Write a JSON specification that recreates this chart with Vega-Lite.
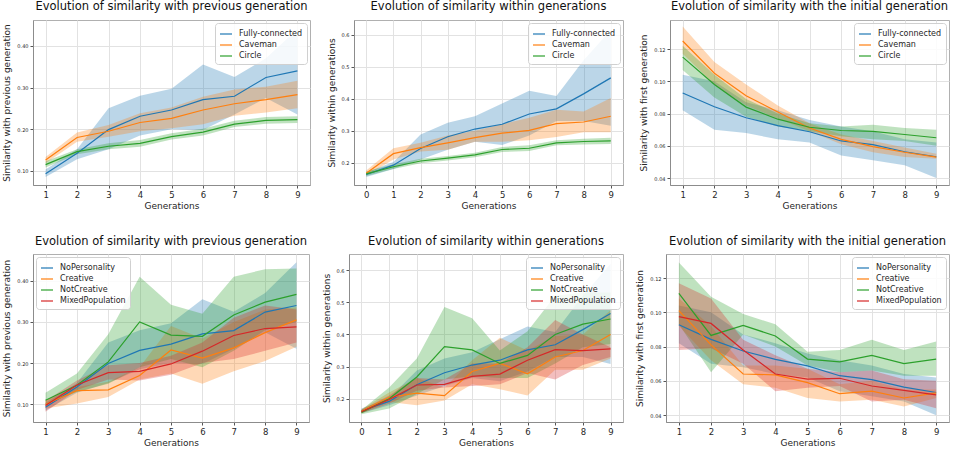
{
  "$schema": "https://vega.github.io/schema/vega-lite/v6.json",
  "padding": {"left": 2, "top": 0, "right": 0, "bottom": 0},
  "background": "white",
  "data": {"name": "d"},
  "datasets": {
    "d": [
      {"p":1,"g":"Fully-connected","x":1,"m":0.093,"lo":0.085,"hi":0.103},
      {"p":1,"g":"Fully-connected","x":2,"m":0.142,"lo":0.128,"hi":0.152},
      {"p":1,"g":"Fully-connected","x":3,"m":0.199,"lo":0.152,"hi":0.250},
      {"p":1,"g":"Fully-connected","x":4,"m":0.231,"lo":0.185,"hi":0.280},
      {"p":1,"g":"Fully-connected","x":5,"m":0.246,"lo":0.200,"hi":0.297},
      {"p":1,"g":"Fully-connected","x":6,"m":0.271,"lo":0.198,"hi":0.355},
      {"p":1,"g":"Fully-connected","x":7,"m":0.279,"lo":0.235,"hi":0.325},
      {"p":1,"g":"Fully-connected","x":8,"m":0.324,"lo":0.275,"hi":0.370},
      {"p":1,"g":"Fully-connected","x":9,"m":0.340,"lo":0.235,"hi":0.440},
      {"p":1,"g":"Caveman","x":1,"m":0.126,"lo":0.118,"hi":0.133},
      {"p":1,"g":"Caveman","x":2,"m":0.180,"lo":0.170,"hi":0.192},
      {"p":1,"g":"Caveman","x":3,"m":0.195,"lo":0.182,"hi":0.210},
      {"p":1,"g":"Caveman","x":4,"m":0.216,"lo":0.195,"hi":0.238},
      {"p":1,"g":"Caveman","x":5,"m":0.226,"lo":0.202,"hi":0.252},
      {"p":1,"g":"Caveman","x":6,"m":0.246,"lo":0.212,"hi":0.278},
      {"p":1,"g":"Caveman","x":7,"m":0.261,"lo":0.232,"hi":0.295},
      {"p":1,"g":"Caveman","x":8,"m":0.271,"lo":0.240,"hi":0.302},
      {"p":1,"g":"Caveman","x":9,"m":0.283,"lo":0.250,"hi":0.316},
      {"p":1,"g":"Circle","x":1,"m":0.115,"lo":0.108,"hi":0.123},
      {"p":1,"g":"Circle","x":2,"m":0.146,"lo":0.140,"hi":0.152},
      {"p":1,"g":"Circle","x":3,"m":0.159,"lo":0.152,"hi":0.166},
      {"p":1,"g":"Circle","x":4,"m":0.166,"lo":0.158,"hi":0.174},
      {"p":1,"g":"Circle","x":5,"m":0.182,"lo":0.175,"hi":0.190},
      {"p":1,"g":"Circle","x":6,"m":0.193,"lo":0.185,"hi":0.201},
      {"p":1,"g":"Circle","x":7,"m":0.212,"lo":0.205,"hi":0.220},
      {"p":1,"g":"Circle","x":8,"m":0.221,"lo":0.213,"hi":0.229},
      {"p":1,"g":"Circle","x":9,"m":0.223,"lo":0.215,"hi":0.231},

      {"p":2,"g":"Fully-connected","x":0,"m":0.163,"lo":0.155,"hi":0.170},
      {"p":2,"g":"Fully-connected","x":1,"m":0.192,"lo":0.180,"hi":0.202},
      {"p":2,"g":"Fully-connected","x":2,"m":0.244,"lo":0.210,"hi":0.288},
      {"p":2,"g":"Fully-connected","x":3,"m":0.281,"lo":0.240,"hi":0.325},
      {"p":2,"g":"Fully-connected","x":4,"m":0.305,"lo":0.265,"hi":0.345},
      {"p":2,"g":"Fully-connected","x":5,"m":0.320,"lo":0.255,"hi":0.385},
      {"p":2,"g":"Fully-connected","x":6,"m":0.352,"lo":0.285,"hi":0.425},
      {"p":2,"g":"Fully-connected","x":7,"m":0.368,"lo":0.330,"hi":0.408},
      {"p":2,"g":"Fully-connected","x":8,"m":0.415,"lo":0.330,"hi":0.520},
      {"p":2,"g":"Fully-connected","x":9,"m":0.465,"lo":0.315,"hi":0.615},
      {"p":2,"g":"Caveman","x":0,"m":0.167,"lo":0.160,"hi":0.175},
      {"p":2,"g":"Caveman","x":1,"m":0.228,"lo":0.210,"hi":0.245},
      {"p":2,"g":"Caveman","x":2,"m":0.247,"lo":0.235,"hi":0.262},
      {"p":2,"g":"Caveman","x":3,"m":0.262,"lo":0.240,"hi":0.285},
      {"p":2,"g":"Caveman","x":4,"m":0.278,"lo":0.265,"hi":0.300},
      {"p":2,"g":"Caveman","x":5,"m":0.292,"lo":0.265,"hi":0.320},
      {"p":2,"g":"Caveman","x":6,"m":0.301,"lo":0.270,"hi":0.340},
      {"p":2,"g":"Caveman","x":7,"m":0.322,"lo":0.280,"hi":0.365},
      {"p":2,"g":"Caveman","x":8,"m":0.327,"lo":0.295,"hi":0.360},
      {"p":2,"g":"Caveman","x":9,"m":0.345,"lo":0.295,"hi":0.402},
      {"p":2,"g":"Circle","x":0,"m":0.165,"lo":0.158,"hi":0.172},
      {"p":2,"g":"Circle","x":1,"m":0.187,"lo":0.180,"hi":0.195},
      {"p":2,"g":"Circle","x":2,"m":0.205,"lo":0.198,"hi":0.212},
      {"p":2,"g":"Circle","x":3,"m":0.214,"lo":0.207,"hi":0.221},
      {"p":2,"g":"Circle","x":4,"m":0.224,"lo":0.217,"hi":0.231},
      {"p":2,"g":"Circle","x":5,"m":0.241,"lo":0.233,"hi":0.249},
      {"p":2,"g":"Circle","x":6,"m":0.245,"lo":0.236,"hi":0.254},
      {"p":2,"g":"Circle","x":7,"m":0.262,"lo":0.254,"hi":0.270},
      {"p":2,"g":"Circle","x":8,"m":0.266,"lo":0.257,"hi":0.275},
      {"p":2,"g":"Circle","x":9,"m":0.268,"lo":0.258,"hi":0.278},

      {"p":3,"g":"Fully-connected","x":1,"m":0.0927,"lo":0.082,"hi":0.104},
      {"p":3,"g":"Fully-connected","x":2,"m":0.0842,"lo":0.070,"hi":0.100},
      {"p":3,"g":"Fully-connected","x":3,"m":0.0774,"lo":0.068,"hi":0.087},
      {"p":3,"g":"Fully-connected","x":4,"m":0.0725,"lo":0.064,"hi":0.082},
      {"p":3,"g":"Fully-connected","x":5,"m":0.0687,"lo":0.062,"hi":0.076},
      {"p":3,"g":"Fully-connected","x":6,"m":0.0630,"lo":0.054,"hi":0.072},
      {"p":3,"g":"Fully-connected","x":7,"m":0.0607,"lo":0.051,"hi":0.069},
      {"p":3,"g":"Fully-connected","x":8,"m":0.0563,"lo":0.048,"hi":0.064},
      {"p":3,"g":"Fully-connected","x":9,"m":0.0532,"lo":0.040,"hi":0.062},
      {"p":3,"g":"Caveman","x":1,"m":0.125,"lo":0.117,"hi":0.134},
      {"p":3,"g":"Caveman","x":2,"m":0.105,"lo":0.098,"hi":0.112},
      {"p":3,"g":"Caveman","x":3,"m":0.091,"lo":0.085,"hi":0.098},
      {"p":3,"g":"Caveman","x":4,"m":0.081,"lo":0.077,"hi":0.085},
      {"p":3,"g":"Caveman","x":5,"m":0.071,"lo":0.069,"hi":0.074},
      {"p":3,"g":"Caveman","x":6,"m":0.064,"lo":0.061,"hi":0.067},
      {"p":3,"g":"Caveman","x":7,"m":0.0595,"lo":0.056,"hi":0.063},
      {"p":3,"g":"Caveman","x":8,"m":0.056,"lo":0.053,"hi":0.059},
      {"p":3,"g":"Caveman","x":9,"m":0.053,"lo":0.052,"hi":0.055},
      {"p":3,"g":"Circle","x":1,"m":0.115,"lo":0.107,"hi":0.122},
      {"p":3,"g":"Circle","x":2,"m":0.098,"lo":0.090,"hi":0.104},
      {"p":3,"g":"Circle","x":3,"m":0.084,"lo":0.078,"hi":0.089},
      {"p":3,"g":"Circle","x":4,"m":0.0765,"lo":0.072,"hi":0.080},
      {"p":3,"g":"Circle","x":5,"m":0.0715,"lo":0.069,"hi":0.074},
      {"p":3,"g":"Circle","x":6,"m":0.0695,"lo":0.066,"hi":0.072},
      {"p":3,"g":"Circle","x":7,"m":0.069,"lo":0.064,"hi":0.073},
      {"p":3,"g":"Circle","x":8,"m":0.067,"lo":0.063,"hi":0.071},
      {"p":3,"g":"Circle","x":9,"m":0.065,"lo":0.060,"hi":0.070},

      {"p":4,"g":"NoPersonality","x":1,"m":0.093,"lo":0.085,"hi":0.103},
      {"p":4,"g":"NoPersonality","x":2,"m":0.142,"lo":0.128,"hi":0.152},
      {"p":4,"g":"NoPersonality","x":3,"m":0.199,"lo":0.152,"hi":0.250},
      {"p":4,"g":"NoPersonality","x":4,"m":0.231,"lo":0.185,"hi":0.280},
      {"p":4,"g":"NoPersonality","x":5,"m":0.246,"lo":0.200,"hi":0.297},
      {"p":4,"g":"NoPersonality","x":6,"m":0.271,"lo":0.198,"hi":0.355},
      {"p":4,"g":"NoPersonality","x":7,"m":0.279,"lo":0.235,"hi":0.325},
      {"p":4,"g":"NoPersonality","x":8,"m":0.324,"lo":0.275,"hi":0.370},
      {"p":4,"g":"NoPersonality","x":9,"m":0.340,"lo":0.235,"hi":0.445},
      {"p":4,"g":"Creative","x":1,"m":0.100,"lo":0.090,"hi":0.110},
      {"p":4,"g":"Creative","x":2,"m":0.133,"lo":0.102,"hi":0.142},
      {"p":4,"g":"Creative","x":3,"m":0.135,"lo":0.118,"hi":0.155},
      {"p":4,"g":"Creative","x":4,"m":0.170,"lo":0.160,"hi":0.190},
      {"p":4,"g":"Creative","x":5,"m":0.232,"lo":0.175,"hi":0.290},
      {"p":4,"g":"Creative","x":6,"m":0.212,"lo":0.150,"hi":0.260},
      {"p":4,"g":"Creative","x":7,"m":0.237,"lo":0.180,"hi":0.300},
      {"p":4,"g":"Creative","x":8,"m":0.274,"lo":0.205,"hi":0.330},
      {"p":4,"g":"Creative","x":9,"m":0.305,"lo":0.240,"hi":0.335},
      {"p":4,"g":"NotCreative","x":1,"m":0.110,"lo":0.100,"hi":0.128},
      {"p":4,"g":"NotCreative","x":2,"m":0.146,"lo":0.130,"hi":0.175},
      {"p":4,"g":"NotCreative","x":3,"m":0.203,"lo":0.150,"hi":0.270},
      {"p":4,"g":"NotCreative","x":4,"m":0.300,"lo":0.190,"hi":0.410},
      {"p":4,"g":"NotCreative","x":5,"m":0.268,"lo":0.210,"hi":0.342},
      {"p":4,"g":"NotCreative","x":6,"m":0.265,"lo":0.190,"hi":0.320},
      {"p":4,"g":"NotCreative","x":7,"m":0.317,"lo":0.230,"hi":0.410},
      {"p":4,"g":"NotCreative","x":8,"m":0.348,"lo":0.280,"hi":0.428},
      {"p":4,"g":"NotCreative","x":9,"m":0.367,"lo":0.300,"hi":0.430},
      {"p":4,"g":"MixedPopulation","x":1,"m":0.097,"lo":0.082,"hi":0.108},
      {"p":4,"g":"MixedPopulation","x":2,"m":0.147,"lo":0.135,"hi":0.158},
      {"p":4,"g":"MixedPopulation","x":3,"m":0.177,"lo":0.160,"hi":0.195},
      {"p":4,"g":"MixedPopulation","x":4,"m":0.180,"lo":0.158,"hi":0.200},
      {"p":4,"g":"MixedPopulation","x":5,"m":0.198,"lo":0.172,"hi":0.218},
      {"p":4,"g":"MixedPopulation","x":6,"m":0.229,"lo":0.200,"hi":0.250},
      {"p":4,"g":"MixedPopulation","x":7,"m":0.267,"lo":0.210,"hi":0.310},
      {"p":4,"g":"MixedPopulation","x":8,"m":0.284,"lo":0.230,"hi":0.340},
      {"p":4,"g":"MixedPopulation","x":9,"m":0.288,"lo":0.250,"hi":0.330},

      {"p":5,"g":"NoPersonality","x":0,"m":0.163,"lo":0.155,"hi":0.170},
      {"p":5,"g":"NoPersonality","x":1,"m":0.192,"lo":0.180,"hi":0.202},
      {"p":5,"g":"NoPersonality","x":2,"m":0.244,"lo":0.210,"hi":0.288},
      {"p":5,"g":"NoPersonality","x":3,"m":0.281,"lo":0.240,"hi":0.325},
      {"p":5,"g":"NoPersonality","x":4,"m":0.305,"lo":0.265,"hi":0.345},
      {"p":5,"g":"NoPersonality","x":5,"m":0.320,"lo":0.255,"hi":0.385},
      {"p":5,"g":"NoPersonality","x":6,"m":0.352,"lo":0.285,"hi":0.425},
      {"p":5,"g":"NoPersonality","x":7,"m":0.368,"lo":0.330,"hi":0.408},
      {"p":5,"g":"NoPersonality","x":8,"m":0.415,"lo":0.330,"hi":0.520},
      {"p":5,"g":"NoPersonality","x":9,"m":0.465,"lo":0.308,"hi":0.620},
      {"p":5,"g":"Creative","x":0,"m":0.162,"lo":0.155,"hi":0.168},
      {"p":5,"g":"Creative","x":1,"m":0.205,"lo":0.190,"hi":0.220},
      {"p":5,"g":"Creative","x":2,"m":0.218,"lo":0.180,"hi":0.265},
      {"p":5,"g":"Creative","x":3,"m":0.210,"lo":0.195,"hi":0.235},
      {"p":5,"g":"Creative","x":4,"m":0.285,"lo":0.245,"hi":0.320},
      {"p":5,"g":"Creative","x":5,"m":0.310,"lo":0.230,"hi":0.390},
      {"p":5,"g":"Creative","x":6,"m":0.278,"lo":0.210,"hi":0.350},
      {"p":5,"g":"Creative","x":7,"m":0.330,"lo":0.290,"hi":0.395},
      {"p":5,"g":"Creative","x":8,"m":0.350,"lo":0.290,"hi":0.400},
      {"p":5,"g":"Creative","x":9,"m":0.400,"lo":0.325,"hi":0.475},
      {"p":5,"g":"NotCreative","x":0,"m":0.158,"lo":0.152,"hi":0.165},
      {"p":5,"g":"NotCreative","x":1,"m":0.200,"lo":0.170,"hi":0.235},
      {"p":5,"g":"NotCreative","x":2,"m":0.268,"lo":0.215,"hi":0.325},
      {"p":5,"g":"NotCreative","x":3,"m":0.362,"lo":0.260,"hi":0.485},
      {"p":5,"g":"NotCreative","x":4,"m":0.352,"lo":0.270,"hi":0.450},
      {"p":5,"g":"NotCreative","x":5,"m":0.310,"lo":0.265,"hi":0.350},
      {"p":5,"g":"NotCreative","x":6,"m":0.335,"lo":0.265,"hi":0.410},
      {"p":5,"g":"NotCreative","x":7,"m":0.400,"lo":0.310,"hi":0.520},
      {"p":5,"g":"NotCreative","x":8,"m":0.432,"lo":0.360,"hi":0.530},
      {"p":5,"g":"NotCreative","x":9,"m":0.448,"lo":0.370,"hi":0.530},
      {"p":5,"g":"MixedPopulation","x":0,"m":0.160,"lo":0.155,"hi":0.165},
      {"p":5,"g":"MixedPopulation","x":1,"m":0.198,"lo":0.185,"hi":0.210},
      {"p":5,"g":"MixedPopulation","x":2,"m":0.243,"lo":0.225,"hi":0.265},
      {"p":5,"g":"MixedPopulation","x":3,"m":0.245,"lo":0.235,"hi":0.260},
      {"p":5,"g":"MixedPopulation","x":4,"m":0.270,"lo":0.240,"hi":0.310},
      {"p":5,"g":"MixedPopulation","x":5,"m":0.277,"lo":0.245,"hi":0.310},
      {"p":5,"g":"MixedPopulation","x":6,"m":0.320,"lo":0.280,"hi":0.360},
      {"p":5,"g":"MixedPopulation","x":7,"m":0.353,"lo":0.260,"hi":0.445},
      {"p":5,"g":"MixedPopulation","x":8,"m":0.350,"lo":0.305,"hi":0.400},
      {"p":5,"g":"MixedPopulation","x":9,"m":0.355,"lo":0.330,"hi":0.360},

      {"p":6,"g":"NoPersonality","x":1,"m":0.0927,"lo":0.082,"hi":0.104},
      {"p":6,"g":"NoPersonality","x":2,"m":0.0842,"lo":0.070,"hi":0.100},
      {"p":6,"g":"NoPersonality","x":3,"m":0.0774,"lo":0.068,"hi":0.087},
      {"p":6,"g":"NoPersonality","x":4,"m":0.0725,"lo":0.064,"hi":0.082},
      {"p":6,"g":"NoPersonality","x":5,"m":0.0687,"lo":0.062,"hi":0.076},
      {"p":6,"g":"NoPersonality","x":6,"m":0.0630,"lo":0.054,"hi":0.072},
      {"p":6,"g":"NoPersonality","x":7,"m":0.0607,"lo":0.051,"hi":0.069},
      {"p":6,"g":"NoPersonality","x":8,"m":0.0563,"lo":0.048,"hi":0.064},
      {"p":6,"g":"NoPersonality","x":9,"m":0.0532,"lo":0.040,"hi":0.062},
      {"p":6,"g":"Creative","x":1,"m":0.101,"lo":0.092,"hi":0.108},
      {"p":6,"g":"Creative","x":2,"m":0.081,"lo":0.072,"hi":0.092},
      {"p":6,"g":"Creative","x":3,"m":0.064,"lo":0.058,"hi":0.069},
      {"p":6,"g":"Creative","x":4,"m":0.0635,"lo":0.056,"hi":0.069},
      {"p":6,"g":"Creative","x":5,"m":0.059,"lo":0.050,"hi":0.067},
      {"p":6,"g":"Creative","x":6,"m":0.0525,"lo":0.048,"hi":0.058},
      {"p":6,"g":"Creative","x":7,"m":0.054,"lo":0.049,"hi":0.060},
      {"p":6,"g":"Creative","x":8,"m":0.050,"lo":0.045,"hi":0.055},
      {"p":6,"g":"Creative","x":9,"m":0.053,"lo":0.050,"hi":0.055},
      {"p":6,"g":"NotCreative","x":1,"m":0.111,"lo":0.093,"hi":0.129},
      {"p":6,"g":"NotCreative","x":2,"m":0.0865,"lo":0.065,"hi":0.109},
      {"p":6,"g":"NotCreative","x":3,"m":0.0923,"lo":0.087,"hi":0.099},
      {"p":6,"g":"NotCreative","x":4,"m":0.0862,"lo":0.080,"hi":0.093},
      {"p":6,"g":"NotCreative","x":5,"m":0.0727,"lo":0.069,"hi":0.077},
      {"p":6,"g":"NotCreative","x":6,"m":0.0711,"lo":0.065,"hi":0.078},
      {"p":6,"g":"NotCreative","x":7,"m":0.0748,"lo":0.066,"hi":0.084},
      {"p":6,"g":"NotCreative","x":8,"m":0.0701,"lo":0.063,"hi":0.078},
      {"p":6,"g":"NotCreative","x":9,"m":0.0727,"lo":0.063,"hi":0.083},
      {"p":6,"g":"MixedPopulation","x":1,"m":0.0975,"lo":0.078,"hi":0.117},
      {"p":6,"g":"MixedPopulation","x":2,"m":0.0935,"lo":0.079,"hi":0.108},
      {"p":6,"g":"MixedPopulation","x":3,"m":0.078,"lo":0.070,"hi":0.084},
      {"p":6,"g":"MixedPopulation","x":4,"m":0.064,"lo":0.054,"hi":0.075},
      {"p":6,"g":"MixedPopulation","x":5,"m":0.061,"lo":0.056,"hi":0.067},
      {"p":6,"g":"MixedPopulation","x":6,"m":0.0615,"lo":0.057,"hi":0.065},
      {"p":6,"g":"MixedPopulation","x":7,"m":0.057,"lo":0.048,"hi":0.066},
      {"p":6,"g":"MixedPopulation","x":8,"m":0.0545,"lo":0.049,"hi":0.061},
      {"p":6,"g":"MixedPopulation","x":9,"m":0.0518,"lo":0.044,"hi":0.060}
    ]
  },
  "config": {
    "font": "DejaVu Sans",
    "view": {"stroke": "#b0b0b0"},
    "title": {"font": "DejaVu Sans", "fontSize": 11.5, "fontWeight": "normal", "color": "#111111", "offset": 7},
    "axis": {"labelFont": "DejaVu Sans", "titleFont": "DejaVu Sans", "titleFontWeight": "normal", "titleColor": "#262626", "labelColor": "#262626", "gridColor": "#e2e2e2", "domainColor": "#8c8c8c", "tickColor": "#555555", "tickSize": 3},
    "axisX": {"labelFontSize": 8.5, "titleFontSize": 9, "titlePadding": 3, "labelPadding": 2, "labelFlush": false},
    "axisY": {"labelFontSize": 5, "titleFontSize": 9, "titlePadding": 5, "labelPadding": 2},
    "legend": {"labelFont": "DejaVu Sans", "labelFontSize": 8, "labelColor": "#262626", "symbolType": "stroke", "symbolSize": 144, "symbolStrokeWidth": 1.2, "fillColor": "rgba(255,255,255,0.85)", "strokeColor": "#d0d0d0", "cornerRadius": 3, "padding": 4, "rowPadding": 0, "labelOffset": 6, "offset": 3}
  },
  "spacing": 24,
  "resolve": {"scale": {"color": "independent", "fill": "independent", "x": "independent", "y": "independent"}, "legend": {"color": "independent"}},
  "vconcat": [
    {
      "spacing": 15,
      "resolve": {"scale": {"color": "independent", "fill": "independent", "x": "independent", "y": "independent"}, "legend": {"color": "independent"}},
      "hconcat": [
        {
          "width": 277, "height": 165,
          "title": {"text": "Evolution of similarity with previous generation", "offset": 8},
          "transform": [{"filter": "datum.p == 1"}],
          "encoding": {"x": {"field": "x", "type": "quantitative", "scale": {"domain": [0.6, 9.4], "nice": false, "zero": false}, "axis": {"values": [1,2,3,4,5,6,7,8,9], "title": "Generations"}}},
          "layer": [
            {"mark": {"type": "area", "opacity": 0.3},
             "encoding": {
               "y": {"field": "lo", "type": "quantitative", "scale": {"domain": [0.066, 0.462], "nice": false, "zero": false}, "axis": {"values": [0.1,0.15,0.2,0.25,0.3,0.35,0.4,0.45], "format": ".2f"}, "title": "Similarity with previous generation"},
               "y2": {"field": "hi"},
               "fill": {"field": "g", "type": "nominal", "scale": {"domain": ["Caveman","Circle","Fully-connected"], "range": ["#ff7f0e","#2ca02c","#1f77b4"]}, "legend": null}}},
            {"mark": {"type": "line", "strokeWidth": 1.2},
             "encoding": {
               "y": {"field": "m", "type": "quantitative", "title": "Similarity with previous generation"},
               "color": {"field": "g", "type": "nominal", "scale": {"domain": ["Fully-connected","Caveman","Circle"], "range": ["#1f77b4","#ff7f0e","#2ca02c"]}, "legend": {"title": null, "orient": "top-right"}}}}
          ]
        },
        {
          "width": 269, "height": 165,
          "title": {"text": "Evolution of similarity within generations", "offset": 8},
          "transform": [{"filter": "datum.p == 2"}],
          "encoding": {"x": {"field": "x", "type": "quantitative", "scale": {"domain": [-0.45, 9.45], "nice": false, "zero": false}, "axis": {"values": [0,1,2,3,4,5,6,7,8,9], "title": "Generations"}}},
          "layer": [
            {"mark": {"type": "area", "opacity": 0.3},
             "encoding": {
               "y": {"field": "lo", "type": "quantitative", "scale": {"domain": [0.13, 0.646], "nice": false, "zero": false}, "axis": {"values": [0.2,0.3,0.4,0.5,0.6], "format": ".1f"}, "title": "Similarity within generations"},
               "y2": {"field": "hi"},
               "fill": {"field": "g", "type": "nominal", "scale": {"domain": ["Caveman","Circle","Fully-connected"], "range": ["#ff7f0e","#2ca02c","#1f77b4"]}, "legend": null}}},
            {"mark": {"type": "line", "strokeWidth": 1.2},
             "encoding": {
               "y": {"field": "m", "type": "quantitative", "title": "Similarity within generations"},
               "color": {"field": "g", "type": "nominal", "scale": {"domain": ["Fully-connected","Caveman","Circle"], "range": ["#1f77b4","#ff7f0e","#2ca02c"]}, "legend": {"title": null, "orient": "top-right"}}}}
          ]
        },
        {
          "width": 279, "height": 165,
          "title": {"text": "Evolution of similarity with the initial generation", "offset": 8},
          "transform": [{"filter": "datum.p == 3"}],
          "encoding": {"x": {"field": "x", "type": "quantitative", "scale": {"domain": [0.6, 9.4], "nice": false, "zero": false}, "axis": {"values": [1,2,3,4,5,6,7,8,9], "title": "Generations"}}},
          "layer": [
            {"mark": {"type": "area", "opacity": 0.3},
             "encoding": {
               "y": {"field": "lo", "type": "quantitative", "scale": {"domain": [0.0357, 0.138], "nice": false, "zero": false}, "axis": {"values": [0.04,0.06,0.08,0.1,0.12], "format": ".2f"}, "title": "Similarity with first generation"},
               "y2": {"field": "hi"},
               "fill": {"field": "g", "type": "nominal", "scale": {"domain": ["Caveman","Circle","Fully-connected"], "range": ["#ff7f0e","#2ca02c","#1f77b4"]}, "legend": null}}},
            {"mark": {"type": "line", "strokeWidth": 1.2},
             "encoding": {
               "y": {"field": "m", "type": "quantitative", "title": "Similarity with first generation"},
               "color": {"field": "g", "type": "nominal", "scale": {"domain": ["Fully-connected","Caveman","Circle"], "range": ["#1f77b4","#ff7f0e","#2ca02c"]}, "legend": {"title": null, "orient": "top-right"}}}}
          ]
        }
      ]
    },
    {
      "spacing": 11,
      "resolve": {"scale": {"color": "independent", "fill": "independent", "x": "independent", "y": "independent"}, "legend": {"color": "independent"}},
      "hconcat": [
        {
          "width": 276, "height": 168,
          "title": "Evolution of similarity with previous generation",
          "transform": [{"filter": "datum.p == 4"}],
          "encoding": {"x": {"field": "x", "type": "quantitative", "scale": {"domain": [0.6, 9.4], "nice": false, "zero": false}, "axis": {"values": [1,2,3,4,5,6,7,8,9], "title": "Generations"}}},
          "layer": [
            {"mark": {"type": "area", "opacity": 0.3},
             "encoding": {
               "y": {"field": "lo", "type": "quantitative", "scale": {"domain": [0.057, 0.465], "nice": false, "zero": false}, "axis": {"values": [0.1,0.15,0.2,0.25,0.3,0.35,0.4,0.45], "format": ".2f"}, "title": "Similarity with previous generation"},
               "y2": {"field": "hi"},
               "fill": {"field": "g", "type": "nominal", "scale": {"domain": ["Creative","MixedPopulation","NoPersonality","NotCreative"], "range": ["#ff7f0e","#d62728","#1f77b4","#2ca02c"]}, "legend": null}}},
            {"mark": {"type": "line", "strokeWidth": 1.2},
             "encoding": {
               "y": {"field": "m", "type": "quantitative", "title": "Similarity with previous generation"},
               "color": {"field": "g", "type": "nominal", "scale": {"domain": ["NoPersonality","Creative","NotCreative","MixedPopulation"], "range": ["#1f77b4","#ff7f0e","#2ca02c","#d62728"]}, "legend": {"title": null, "orient": "top-left"}}}}
          ]
        },
        {
          "width": 274, "height": 168,
          "title": "Evolution of similarity within generations",
          "transform": [{"filter": "datum.p == 5"}],
          "encoding": {"x": {"field": "x", "type": "quantitative", "scale": {"domain": [-0.45, 9.45], "nice": false, "zero": false}, "axis": {"values": [0,1,2,3,4,5,6,7,8,9], "title": "Generations"}}},
          "layer": [
            {"mark": {"type": "area", "opacity": 0.3},
             "encoding": {
               "y": {"field": "lo", "type": "quantitative", "scale": {"domain": [0.128, 0.65], "nice": false, "zero": false}, "axis": {"values": [0.2,0.3,0.4,0.5,0.6], "format": ".1f"}, "title": "Similarity within generations"},
               "y2": {"field": "hi"},
               "fill": {"field": "g", "type": "nominal", "scale": {"domain": ["Creative","MixedPopulation","NoPersonality","NotCreative"], "range": ["#ff7f0e","#d62728","#1f77b4","#2ca02c"]}, "legend": null}}},
            {"mark": {"type": "line", "strokeWidth": 1.2},
             "encoding": {
               "y": {"field": "m", "type": "quantitative", "title": "Similarity within generations"},
               "color": {"field": "g", "type": "nominal", "scale": {"domain": ["NoPersonality","Creative","NotCreative","MixedPopulation"], "range": ["#1f77b4","#ff7f0e","#2ca02c","#d62728"]}, "legend": {"title": null, "orient": "top-right"}}}}
          ]
        },
        {
          "width": 283, "height": 168,
          "title": "Evolution of similarity with the initial generation",
          "transform": [{"filter": "datum.p == 6"}],
          "encoding": {"x": {"field": "x", "type": "quantitative", "scale": {"domain": [0.6, 9.4], "nice": false, "zero": false}, "axis": {"values": [1,2,3,4,5,6,7,8,9], "title": "Generations"}}},
          "layer": [
            {"mark": {"type": "area", "opacity": 0.3},
             "encoding": {
               "y": {"field": "lo", "type": "quantitative", "scale": {"domain": [0.036, 0.134], "nice": false, "zero": false}, "axis": {"values": [0.04,0.06,0.08,0.1,0.12], "format": ".2f"}, "title": "Similarity with first generation"},
               "y2": {"field": "hi"},
               "fill": {"field": "g", "type": "nominal", "scale": {"domain": ["Creative","MixedPopulation","NoPersonality","NotCreative"], "range": ["#ff7f0e","#d62728","#1f77b4","#2ca02c"]}, "legend": null}}},
            {"mark": {"type": "line", "strokeWidth": 1.2},
             "encoding": {
               "y": {"field": "m", "type": "quantitative", "title": "Similarity with first generation"},
               "color": {"field": "g", "type": "nominal", "scale": {"domain": ["NoPersonality","Creative","NotCreative","MixedPopulation"], "range": ["#1f77b4","#ff7f0e","#2ca02c","#d62728"]}, "legend": {"title": null, "orient": "top-right"}}}}
          ]
        }
      ]
    }
  ]
}
